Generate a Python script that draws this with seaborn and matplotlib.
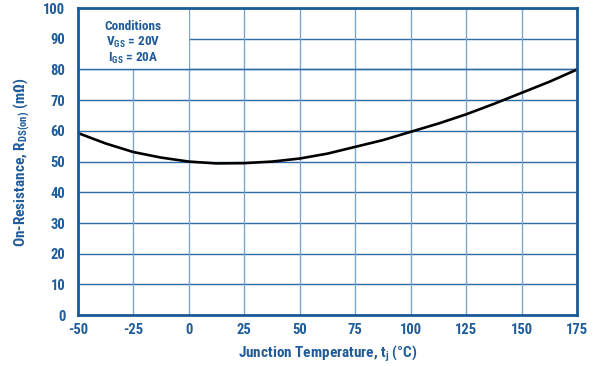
import matplotlib
matplotlib.use("Agg")
import matplotlib.pyplot as plt
from matplotlib.patches import Rectangle
import seaborn as sns
import pandas as pd

# Junction temperature (°C) and on-resistance (mΩ)
temperature = [-50, -37.5, -25, -12.5, 0, 12.5, 25, 37.5, 50, 62.5, 75, 87.5, 100, 112.5, 125, 137.5, 150, 162.5, 175]
resistance = [59.3, 55.9, 53.1, 51.3, 50.0, 49.4, 49.5, 50.0, 51.0, 52.6, 54.8, 57.0, 59.7, 62.4, 65.4, 68.8, 72.4, 76.0, 80.0]

x_ticks = [-50, -25, 0, 25, 50, 75, 100, 125, 150, 175]
y_ticks = [0, 10, 20, 30, 40, 50, 60, 70, 80, 90, 100]

sns.set_theme(style="white")
plt.rcParams["font.family"] = ["Roboto Condensed", "Archivo Narrow", "DejaVu Sans"]
plt.rcParams["font.weight"] = "bold"
plt.rcParams["axes.unicode_minus"] = False

text_blue = "#1f5c99"
frame_blue = "#1a5a96"
hgrid = "#2e6aa5"
vgrid = "#7ba5cc"

df = pd.DataFrame({"t": temperature, "r": resistance})

fig = plt.figure(figsize=(5.95, 3.66), dpi=100)
ax = fig.add_axes([0.131, 0.139, 0.839, 0.839])

for v in y_ticks:
    ax.axhline(v, color=hgrid, lw=1.0, zorder=1)
for v in x_ticks:
    ax.axvline(v, color=vgrid, lw=1.0, zorder=1)

# white panel behind the test conditions
ax.add_patch(Rectangle((-50, 80), 50, 20, facecolor="white", edgecolor="none", zorder=2))
ax.axhline(80, color=hgrid, lw=1.0, zorder=2.5)

sns.lineplot(data=df, x="t", y="r", ax=ax, color="black", lw=1.9, zorder=3)

ax.text(-25, 88.6, "Conditions\nV$_\\mathregular{GS}$ = 20V\nI$_\\mathregular{GS}$ = 20A",
        ha="center", va="center", color=text_blue, fontsize=9.5, fontweight="bold",
        linespacing=1.15, zorder=4)

ax.set_xlim(-50, 175)
ax.set_ylim(0, 100)
ax.set_xticks(x_ticks)
ax.set_yticks(y_ticks)
ax.tick_params(axis="both", length=0, labelsize=10.5, labelcolor=text_blue)
ax.tick_params(axis="x", pad=6)
ax.tick_params(axis="y", pad=9)
for lab in ax.get_xticklabels() + ax.get_yticklabels():
    lab.set_fontweight("bold")

ax.set_xlabel("Junction Temperature, t$_\\mathregular{j}$ (°C)", color=text_blue,
              fontsize=11, fontweight="bold", labelpad=4)
ax.set_ylabel("On-Resistance, R$_\\mathregular{DS(on)}$ (mΩ)", color=text_blue,
              fontsize=11, fontweight="bold", labelpad=8)

for s in ax.spines.values():
    s.set_color(frame_blue)
    s.set_linewidth(2.0)
    s.set_zorder(5)

fig.savefig("out.png", dpi=100, facecolor="white")
